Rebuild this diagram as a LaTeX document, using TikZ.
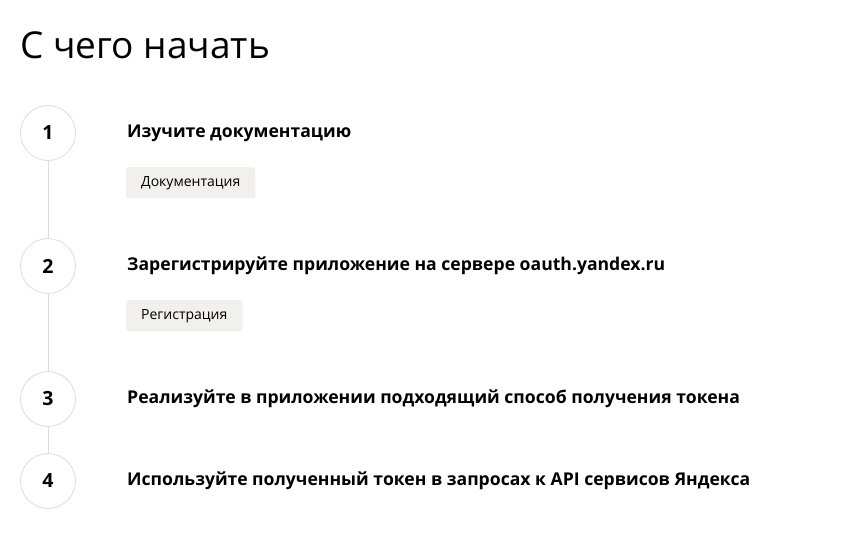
\documentclass[tikz,border=0pt]{standalone}
\usepackage{fontspec}
\setmainfont{Open Sans}
\usetikzlibrary{positioning}
\definecolor{ringgray}{HTML}{DDDDDD}
\definecolor{btnfill}{HTML}{F2F0ED}
\begin{document}
\begin{tikzpicture}[x=1pt,y=-1pt]
		\tikzset{
			stepnode/.style={circle,draw=ringgray,line width=0.8pt,fill=white,minimum size=55pt,inner sep=0pt,font=\fontsize{19.5}{22}\selectfont\bfseries},
		}
		\tikzset{
			headnode/.style={anchor=west,inner sep=0pt,font=\fontsize{17.6}{22}\selectfont\bfseries},
			btnnode/.style={anchor=north west,fill=btnfill,rounded corners=2pt,inner xsep=15pt,minimum height=31pt,font=\fontsize{14}{16}\selectfont},
			edge/.style={draw=ringgray,line width=0.8pt},
		}
		\newcommand{\cx}{48}
		\newcommand{\tx}{127}
		
		\useasboundingbox (0,0) rectangle (868,541);
		
		\node[anchor=base west,inner sep=0pt,font=\fontsize{37}{44}\selectfont] (title) at (20,58) {С чего начать};
		
		\node[stepnode] (s1) at (\cx,133) {1};
		\node[stepnode] (s2) at (\cx,266) {2};
		\node[stepnode] (s3) at (\cx,399) {3};
		\node[stepnode] (s4) at (\cx,481) {4};
		
		\node[headnode] (h1) at (\tx,133) {Изучите документацию};
		\node[headnode] (h2) at (\tx,266) {Зарегистрируйте приложение на сервере oauth.yandex.ru};
		\node[headnode] (h3) at (\tx,399) {Реализуйте в приложении подходящий способ получения токена};
		\node[headnode] (h4) at (\tx,481) {Используйте полученный токен в запросах к API сервисов Яндекса};
		
		\node[btnnode] (b1) at (126,167) {Документация};
		\node[btnnode] (b2) at (126,300) {Регистрация};
		
		\draw[edge] (s1) to (s2);
		\draw[edge] (s2) to (s3);
		\draw[edge] (s3) to (s4);
	\end{tikzpicture}
\end{document}
